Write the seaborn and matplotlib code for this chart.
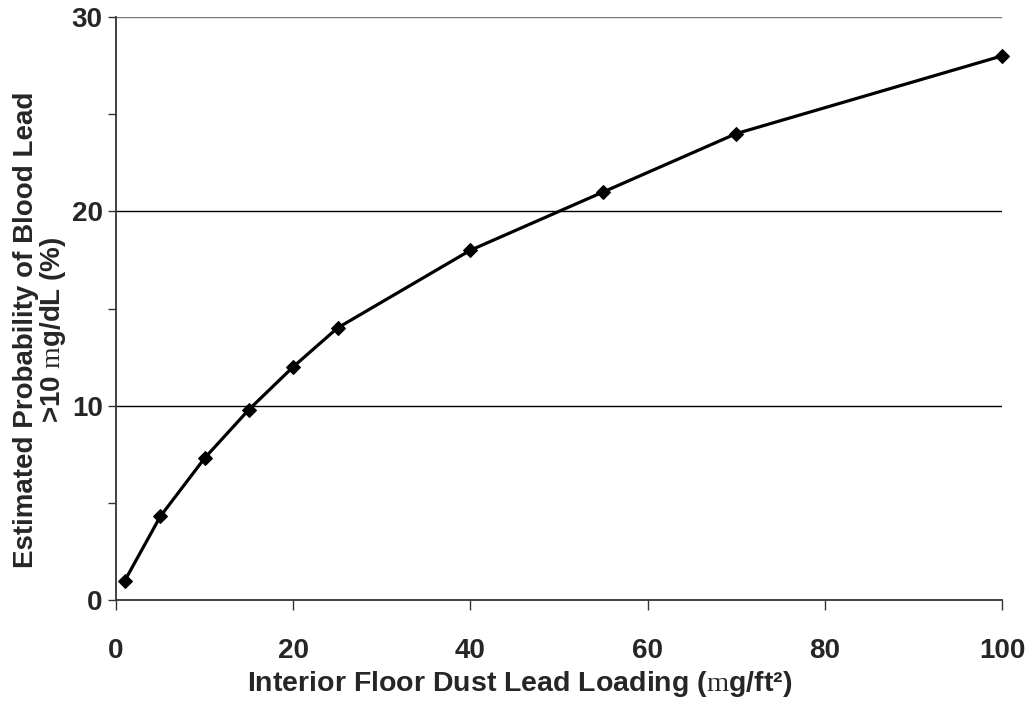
import matplotlib
matplotlib.use("Agg")
import matplotlib.pyplot as plt
import seaborn as sns
import pandas as pd
from matplotlib.ticker import MultipleLocator

loading = [1, 5, 10, 15, 20, 25, 40, 55, 70, 100]
probability = [1.0, 4.3, 7.3, 9.8, 12.0, 14.0, 18.0, 21.0, 24.0, 28.0]
x_ticks = [0, 20, 40, 60, 80, 100]
y_ticks = [0, 10, 20, 30]

sns.set_theme(style="white")
plt.rcParams['font.family'] = ['Liberation Sans', 'DejaVu Sans']
plt.rcParams['mathtext.fontset'] = 'custom'
plt.rcParams['mathtext.rm'] = 'Liberation Serif'

df = pd.DataFrame({"x": loading, "y": probability})

fig = plt.figure(figsize=(10.32, 7.09), dpi=100)
ax = fig.add_axes([0.1124, 0.1537, 0.971 - 0.1124, 0.976 - 0.1537])

for yv in y_ticks[1:]:
    ax.axhline(yv, color="black" if yv < 30 else "#777777", lw=1.0, zorder=1)

sns.lineplot(data=df, x="x", y="y", ax=ax, color="black", lw=2.3,
             marker="D", markersize=7.5, markeredgecolor="black",
             markerfacecolor="black", zorder=3, clip_on=False)

ax.set_xlim(0, 100)
ax.set_ylim(0, 30)
ax.set_xticks(x_ticks)
ax.set_yticks(y_ticks)
ax.yaxis.set_minor_locator(MultipleLocator(5))
ax.tick_params(axis="x", which="major", direction="out", length=7, width=1,
               color="#333333", pad=20, labelsize=20, bottom=True)
ax.tick_params(axis="y", which="both", direction="out", length=5.5, width=1,
               color="#333333", pad=4, labelsize=20, left=True)
for lab in ax.get_xticklabels() + ax.get_yticklabels():
    lab.set_fontweight("bold")

for s in ["top", "right"]:
    ax.spines[s].set_visible(False)
for s in ["left", "bottom"]:
    ax.spines[s].set_color("#333333")
    ax.spines[s].set_linewidth(1.3)

ax.set_xlabel(r"Interior Floor Dust Lead Loading ($\mathrm{m}$g/ft²)", fontsize=20.5,
              fontweight="bold")
ax.xaxis.set_label_coords(0.456, -0.144)
ax.xaxis.label.set_va("center")
ax.set_ylabel("Estimated Probability of Blood Lead\n>10 $\\mathrm{m}$g/dL (%)", fontsize=20,
              fontweight="bold", linespacing=0.95)
ax.yaxis.set_label_coords(-0.085, 0.463)
ax.yaxis.label.set_va("center")

fig.savefig("out.png", dpi=100)
